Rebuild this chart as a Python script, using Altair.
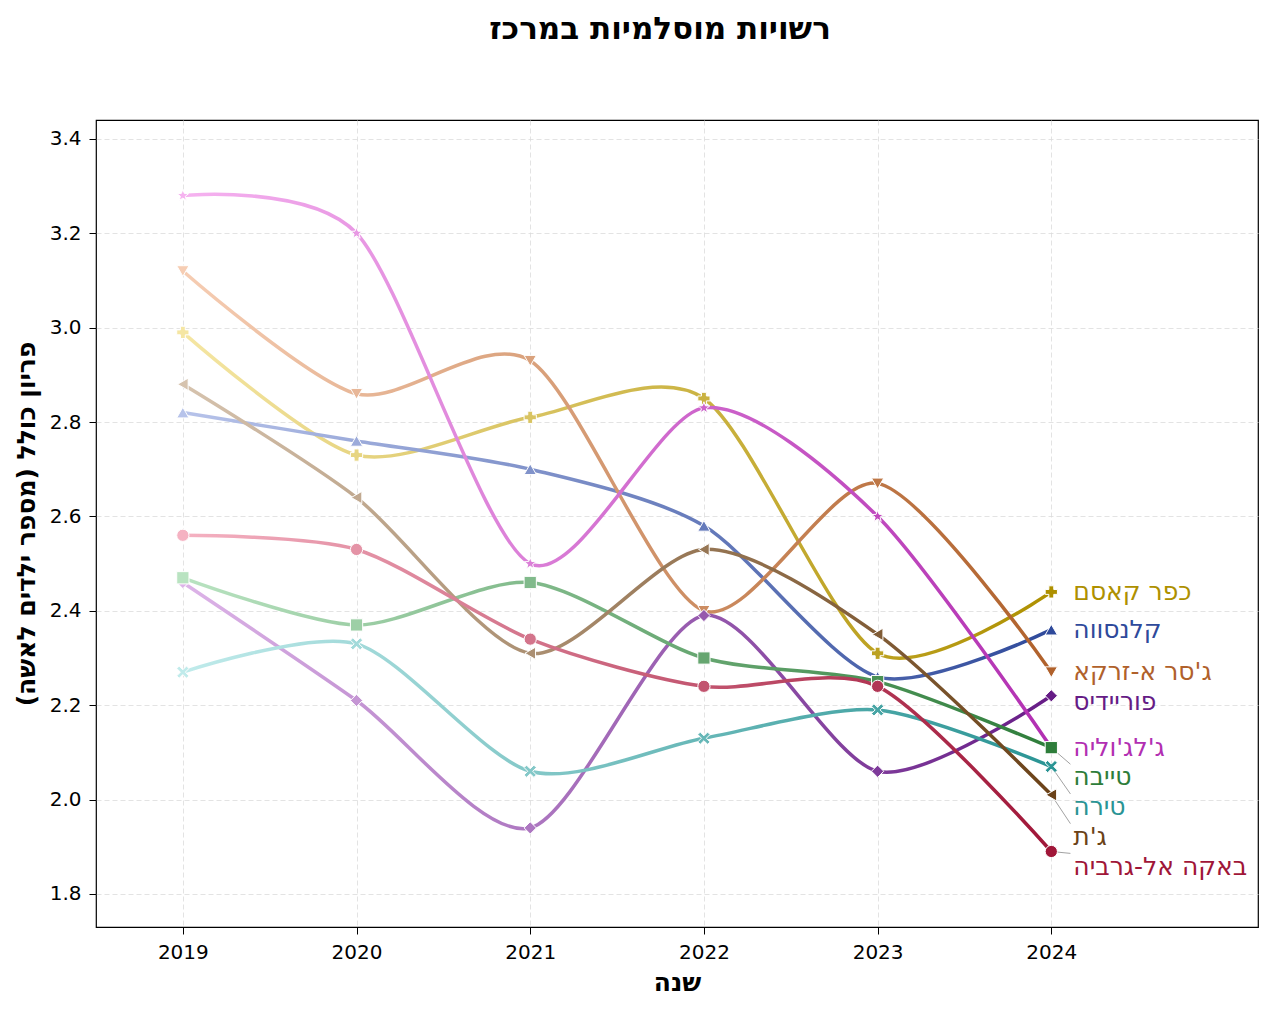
import math
import altair as alt
import pandas as pd

# ---------------- data ----------------
years = [2019, 2020, 2021, 2022, 2023, 2024]
series_names = ["כפר קאסם", "קלנסווה", "ג'סר א-זרקא", "פוריידיס", "ג'לג'וליה",
                "טייבה", "טירה", "ג'ת", "באקה אל-גרביה"]
kafr_qasim = [2.99, 2.73, 2.81, 2.85, 2.31, 2.44]
qalansawe = [2.82, 2.76, 2.70, 2.58, 2.26, 2.36]
jisr_az_zarqa = [3.12, 2.86, 2.93, 2.40, 2.67, 2.27]
fureidis = [2.46, 2.21, 1.94, 2.39, 2.06, 2.22]
jaljulia = [3.28, 3.20, 2.50, 2.83, 2.60, 2.11]
tayibe = [2.47, 2.37, 2.46, 2.30, 2.25, 2.11]
tira = [2.27, 2.33, 2.06, 2.13, 2.19, 2.07]
jatt = [2.88, 2.64, 2.31, 2.53, 2.35, 2.01]
baqa = [2.56, 2.53, 2.34, 2.24, 2.24, 1.89]
series_values = [kafr_qasim, qalansawe, jisr_az_zarqa, fureidis, jaljulia,
                 tayibe, tira, jatt, baqa]
y_ticks = [1.8, 2.0, 2.2, 2.4, 2.6, 2.8, 3.0, 3.2, 3.4]

# ---------------- styles ----------------
start_colors = ["#F5E6A3", "#B7C3EA", "#F6CDB3", "#DDB4E8", "#F6B3F0",
                "#B9E3C1", "#C0EBEB", "#D6C3AE", "#F5B2C2"]
end_colors = ["#AE9000", "#2F4A9B", "#B0612B", "#661C86", "#B22FB2",
              "#2E7D3A", "#2A9494", "#6B4218", "#A01638"]


def star_path(n=5, r_out=1.0, r_in=0.42):
    pts = []
    for k in range(2 * n):
        r = r_out if k % 2 == 0 else r_in
        a = -math.pi / 2 + k * math.pi / n
        pts.append(f"{r * math.cos(a):.3f},{r * math.sin(a):.3f}")
    return "M" + "L".join(pts) + "Z"


x_path = ("M-1,-0.6L-0.6,-1L0,-0.4L0.6,-1L1,-0.6L0.4,0L1,0.6L0.6,1L0,0.4"
          "L-0.6,1L-1,0.6L-0.4,0Z")
shapes = ["cross", "triangle-up", "triangle-down", "diamond", star_path(),
          "square", x_path, "triangle-left", "circle"]

FONT = "DejaVu Sans"


def hex_to_rgb(h):
    h = h.lstrip("#")
    return tuple(int(h[i:i + 2], 16) for i in (0, 2, 4))


def mix(c1, c2, t):
    a, b = hex_to_rgb(c1), hex_to_rgb(c2)
    return "#%02x%02x%02x" % tuple(round(a[i] + (b[i] - a[i]) * t) for i in range(3))


rows = []
for i, (name, vals) in enumerate(zip(series_names, series_values)):
    for j, (yr, v) in enumerate(zip(years, vals)):
        t = (yr - years[0]) / (years[-1] - years[0])
        rows.append({"series": name, "year": yr, "value": v,
                     "mcolor": mix(start_colors[i], end_colors[i], t)})
df = pd.DataFrame(rows)

# label layout: push labels down so they do not overlap
min_gap = 0.063
order = sorted(range(len(series_names)), key=lambda k: -series_values[k][-1])
label_pos = {}
prev = None
for k in order:
    y = series_values[k][-1]
    if prev is not None and prev - y < min_gap:
        y = prev - min_gap
    label_pos[k] = y
    prev = y

lab_rows = []
lead_rows = []
for k, name in enumerate(series_names):
    endv = series_values[k][-1]
    ly = label_pos[k]
    lab_rows.append({"series": name, "year": years[-1], "label_y": ly,
                     "tcolor": end_colors[k]})
    if abs(ly - endv) > 0.015:
        sgn = 1 if endv > ly else -1
        lead_rows.append({"year": years[-1], "x2": years[-1] + 0.11,
                          "value": endv, "y2": ly + sgn * 0.028})
lab_df = pd.DataFrame(lab_rows)
lead_df = pd.DataFrame(lead_rows)

x_scale = alt.Scale(domain=[2018.5, 2025.19], nice=False, zero=False)
y_scale = alt.Scale(domain=[1.73, 3.44], nice=False, zero=False)

x_axis = alt.Axis(values=years, format="d", title="שנה")
y_axis = alt.Axis(values=y_ticks, format=".1f", title="פריון כולל (מספר ילדים לאשה)")

layers = []
for i, name in enumerate(series_names):
    grad = alt.Gradient(
        gradient="linear",
        stops=[alt.GradientStop(color=start_colors[i], offset=0),
               alt.GradientStop(color=end_colors[i], offset=1)],
        x1=0, x2=1, y1=0, y2=0,
    )
    sub = df[df["series"] == name]
    layers.append(
        alt.Chart(sub).mark_line(stroke=grad, strokeWidth=3.5,
                                 interpolate="cardinal", tension=0.2).encode(
            x=alt.X("year:Q", scale=x_scale, axis=x_axis),
            y=alt.Y("value:Q", scale=y_scale, axis=y_axis),
        )
    )

points = alt.Chart(df).mark_point(filled=True, size=150, stroke="white",
                                  strokeWidth=1, opacity=1).encode(
    x=alt.X("year:Q", scale=x_scale),
    y=alt.Y("value:Q", scale=y_scale),
    shape=alt.Shape("series:N", scale=alt.Scale(domain=series_names, range=shapes),
                    legend=None),
    fill=alt.Fill("mcolor:N", scale=None),
)

leaders = alt.Chart(lead_df).mark_rule(color="#8a8a8a", strokeWidth=0.8).encode(
    x=alt.X("year:Q", scale=x_scale),
    x2="x2:Q",
    y=alt.Y("value:Q", scale=y_scale),
    y2="y2:Q",
)

labels = alt.Chart(lab_df).mark_text(align="left", baseline="middle", dx=22,
                                     fontSize=25, font=FONT).encode(
    x=alt.X("year:Q", scale=x_scale),
    y=alt.Y("label_y:Q", scale=y_scale),
    text="series:N",
    color=alt.Color("tcolor:N", scale=None),
)

chart = alt.layer(*layers, leaders, points, labels).properties(
    width=1162,
    height=807,
    autosize=alt.AutoSizeParams(type="none"),
    padding={"left": 88, "top": 112, "right": 5, "bottom": 70},
    title=alt.TitleParams(text="רשויות מוסלמיות במרכז", fontSize=31, font=FONT,
                          fontWeight="bold", color="black", offset=74,
                          anchor="middle", dx=-17),
).configure_view(
    stroke="black", strokeWidth=1.2
).configure_axis(
    domain=False,
    labelFont=FONT, labelFontSize=20, labelColor="black",
    titleFont=FONT, titleFontSize=25, titleFontWeight="bold", titleColor="black",
    tickColor="black", tickSize=7, tickWidth=1,
    grid=True, gridColor="#dcdcdc", gridDash=[5, 3], gridWidth=0.8,
).configure_axisX(
    labelPadding=8, titlePadding=8,
).configure_axisY(
    labelPadding=8, titlePadding=10,
)

chart.save("out.html", embed_options={"renderer": "svg", "actions": False})
